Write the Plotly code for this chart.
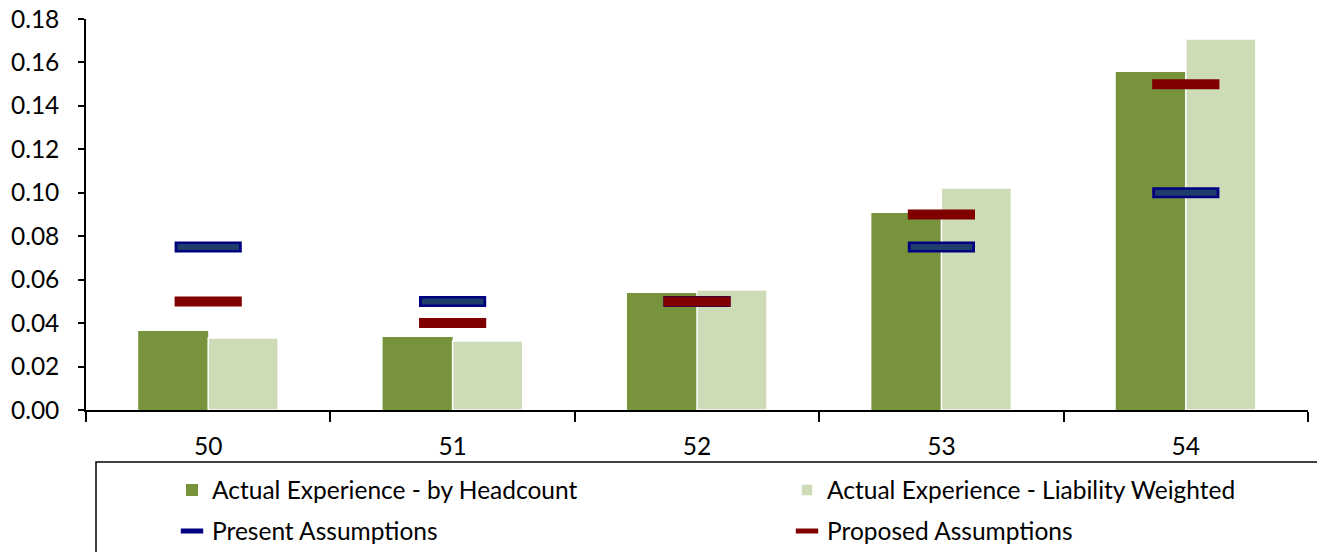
import plotly.graph_objects as go

categories = ["50", "51", "52", "53", "54"]
headcount = [0.0364, 0.0336, 0.0539, 0.0907, 0.1556]
liability = [0.0331, 0.0318, 0.0552, 0.1022, 0.1708]
present = [0.075, 0.050, 0.050, 0.075, 0.100]
proposed = [0.050, 0.040, 0.050, 0.090, 0.150]
y_ticks = [0.00, 0.02, 0.04, 0.06, 0.08, 0.10, 0.12, 0.14, 0.16, 0.18]

FONT = "Lato"
FS = 24.5
OFF = 8  # page body margin offset

fig = go.Figure()
fig.add_trace(go.Bar(x=categories, y=headcount, name="Actual Experience - by Headcount",
                     marker=dict(color="#77933C", line=dict(color="#77933C", width=0)),
                     legend="legend"))
fig.add_trace(go.Bar(x=categories, y=liability, name="Actual Experience - Liability Weighted",
                     marker=dict(color="#CDDBB6", line=dict(color="#FFFFFF", width=1.5)),
                     legend="legend2"))
fig.add_trace(go.Scatter(x=categories, y=present, mode="markers", name="Present Assumptions",
                         marker=dict(symbol="line-ew", size=48, line=dict(color="#000080", width=11)),
                         legend="legend3"))
fig.add_trace(go.Scatter(x=categories, y=present, mode="markers", showlegend=False, hoverinfo="skip",
                         marker=dict(symbol="line-ew", size=44, line=dict(color="#1F3D6B", width=6))))
fig.add_trace(go.Scatter(x=categories, y=proposed, mode="markers", name="Proposed Assumptions",
                         marker=dict(symbol="line-ew", size=48, line=dict(color="#800000", width=10)),
                         legend="legend4"))

W, H = 1325, 552
# screen-pixel targets from the reference
AX_L, AX_R, AX_T, AX_B = 86, 1308, 19, 410
L = AX_L - OFF
R = W - (AX_R - OFF)
top = AX_T - OFF
bottom = H - (AX_B - OFF)
plot_h = AX_B - AX_T
plot_w = AX_R - AX_L

def py(pix):
    return (AX_B - pix) / plot_h

def px(pix):
    return (pix - AX_L) / plot_w

def leg(xpix, ypix):
    return dict(x=px(xpix), y=py(ypix), xanchor="left", yanchor="middle",
                font=dict(family=FONT, size=FS, color="#000000"),
                bgcolor="rgba(0,0,0,0)", borderwidth=0)

fig.update_layout(
    width=W, height=H,
    margin=dict(l=L, r=R, t=top, b=bottom, autoexpand=False),
    paper_bgcolor="white", plot_bgcolor="white",
    barmode="group", bargap=0.427, bargroupgap=0,
    font=dict(family=FONT, size=FS, color="#000000"),
    legend=leg(172, 490),
    legend2=leg(787, 490),
    legend3=leg(172, 531),
    legend4=leg(787, 531),
    xaxis=dict(type="category", showline=True, linecolor="#000000", linewidth=2,
               ticks="outside", tickson="boundaries", ticklen=10, tickcolor="#000000", tickwidth=1.5,
               ticklabelstandoff=14, showgrid=False, zeroline=False),
    yaxis=dict(range=[0, 0.18], tickvals=y_ticks, tickformat=".2f", showline=True,
               linecolor="#000000", linewidth=1.5, ticks="outside", ticklen=6,
               tickcolor="#000000", tickwidth=1.5, ticklabelstandoff=14,
               ticklabeloverflow="allow", showgrid=False, zeroline=False),
    shapes=[dict(type="rect", xref="paper", yref="paper", x0=px(96), x1=1.2,
                 y0=py(600), y1=py(462), line=dict(color="#000000", width=1.5),
                 fillcolor="rgba(0,0,0,0)", layer="below")],
)

fig.write_html("out.html")
